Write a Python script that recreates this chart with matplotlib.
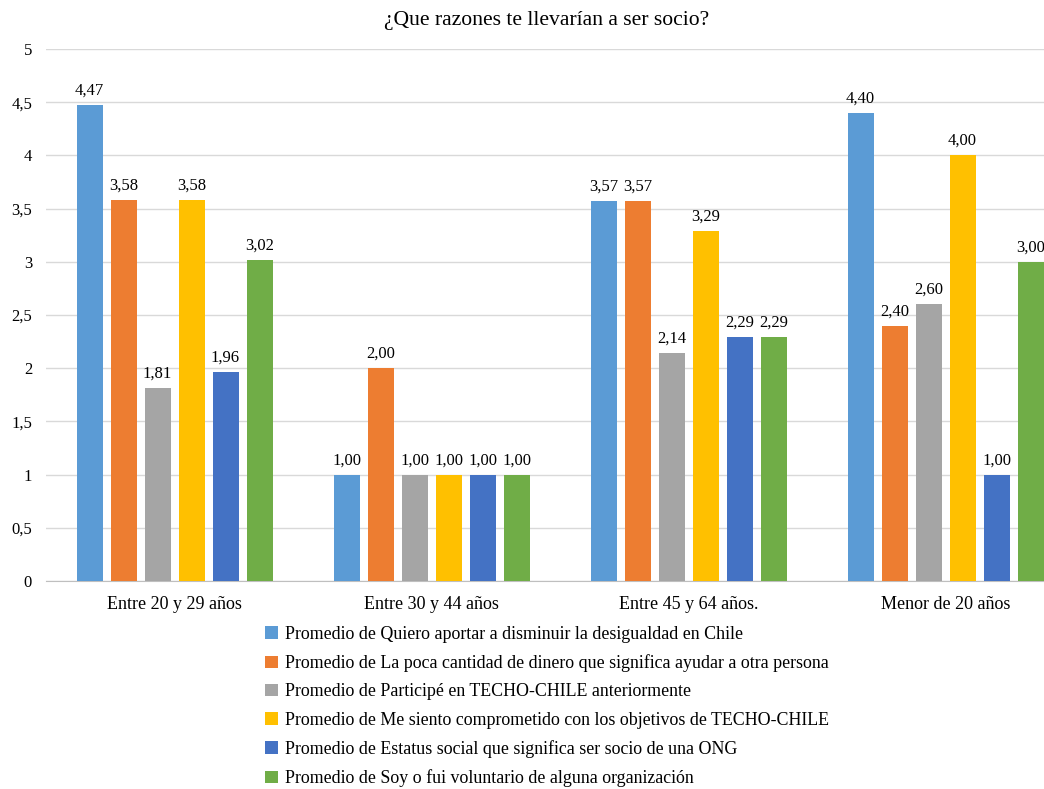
import numpy as np
import matplotlib.pyplot as plt
from matplotlib.ticker import FuncFormatter

plt.rcParams['font.family'] = ['Liberation Serif', 'DejaVu Serif']

categorias = ['Entre 20 y 29 años', 'Entre 30 y 44 años', 'Entre 45 y 64 años.', 'Menor de 20 años']
series = [
    'Promedio de Quiero aportar a disminuir la desigualdad en Chile',
    'Promedio de La poca cantidad de dinero que significa ayudar a otra persona',
    'Promedio de Participé en TECHO-CHILE anteriormente',
    'Promedio de Me siento comprometido con los objetivos de TECHO-CHILE',
    'Promedio de Estatus social que significa ser socio de una ONG',
    'Promedio de Soy o fui voluntario de alguna organización',
]
desigualdad = [4.47, 1.00, 3.57, 4.40]
dinero = [3.58, 2.00, 3.57, 2.40]
participe = [1.81, 1.00, 2.14, 2.60]
comprometido = [3.58, 1.00, 3.29, 4.00]
estatus = [1.96, 1.00, 2.29, 1.00]
voluntario = [3.02, 1.00, 2.29, 3.00]
valores = [desigualdad, dinero, participe, comprometido, estatus, voluntario]
colores = ['#5B9BD5', '#ED7D31', '#A5A5A5', '#FFC000', '#4472C4', '#70AD47']

fig = plt.figure(figsize=(10.44, 7.89), dpi=100)
# el eje se sale un poco por la derecha, como en la imagen original
ax = fig.add_axes([46 / 1044, 208 / 789, 1028 / 1044, 532 / 789])

x = np.arange(len(categorias))
paso = 34 / 257
ancho = 26 / 257
handles = []
for i, (vals, col) in enumerate(zip(valores, colores)):
    pos = x + (i - 2.5) * paso
    b = ax.bar(pos, vals, width=ancho, color=col, zorder=3)
    handles.append(b)
    for px, v in zip(pos, vals):
        ax.text(px, v + 0.06, f'{v:.2f}'.replace('.', ','), ha='center', va='bottom',
                fontsize=12)

ax.set_xlim(-0.5, 3.5)
ax.set_ylim(0, 5)
ax.set_yticks(np.arange(0, 5.01, 0.5))
ax.yaxis.set_major_formatter(FuncFormatter(lambda v, p: f'{v:g}'.replace('.', ',')))
ax.set_xticks(x)
ax.set_xticklabels(categorias)
ax.tick_params(axis='x', length=0, labelsize=13, pad=11)
ax.tick_params(axis='y', length=0, labelsize=12, pad=10)
ax.grid(axis='y', color='#D9D9D9', linewidth=1, zorder=0)
for s in ['top', 'right', 'left']:
    ax.spines[s].set_visible(False)
ax.spines['bottom'].set_color('#BFBFBF')

fig.text(547 / 1044, 1 - 20 / 789, '¿Que razones te llevarían a ser socio?', ha='center',
         va='center', fontsize=15.6)

fig.legend(handles, series, loc='upper left', bbox_to_anchor=(265 / 1044, 1 - 626 / 789),
           frameon=False, fontsize=12.9, handlelength=0.7, handleheight=0.7,
           handletextpad=0.4, labelspacing=0.63, borderaxespad=0, borderpad=0)

fig.savefig('out.png', dpi=100)
